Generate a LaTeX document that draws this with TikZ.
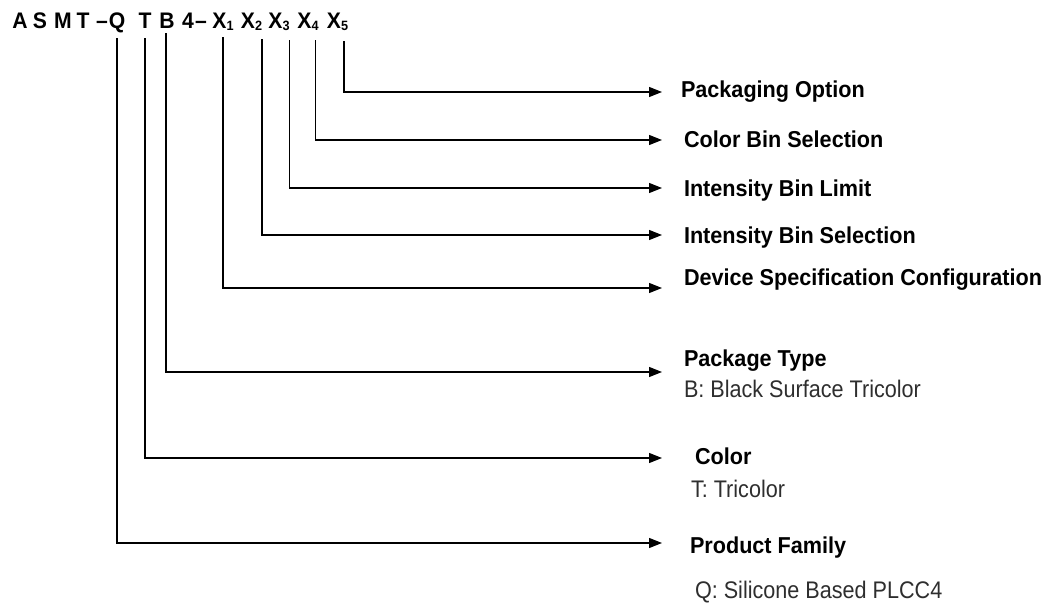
\documentclass[tikz,border=0pt]{standalone}
\usepackage{fontspec}
\setmainfont{Liberation Sans}
\newfontfamily\boldnarrow{Liberation Sans Bold}[FakeStretch=0.94]
\newfontfamily\regnarrow{Liberation Sans}[FakeStretch=0.9]
\usetikzlibrary{arrows.meta,calc}
\newcommand\subx[1]{\raisebox{-2.5pt}{\fontsize{13.5pt}{14pt}\selectfont #1}}
\tikzset{
  hdr/.style={inner sep=0pt,outer sep=0pt,text depth=0pt,anchor=base,font=\boldnarrow\fontsize{22.5pt}{23pt}\selectfont},
  ttl/.style={inner sep=0pt,outer sep=0pt,anchor=base west,font=\boldnarrow\fontsize{23pt}{23pt}\selectfont},
  dsc/.style={inner sep=0pt,outer sep=0pt,anchor=base west,font=\regnarrow\fontsize{24pt}{24pt}\selectfont,text=black!82},
  conn/.style={line width=1.2pt,-{Triangle[length=13pt,width=10pt]}}
}
\begin{document}
\begin{tikzpicture}[x=1pt,y=-1pt]
\useasboundingbox (0,0) rectangle (1046,603);
% header
\node[hdr] (hA) at (20,28) {A};
\node[hdr] (hS) at (40,28) {S};
\node[hdr] (hM) at (63,28) {M};
\node[hdr] (hT) at (83,28) {T};
\node[hdr] (hd1) at (102,28) {–};
\node[hdr] (Q) at (117,28) {Q};
\node[hdr] (T) at (145,28) {T};
\node[hdr] (B) at (167,28) {B};
\node[hdr] (h4) at (188,28) {4};
\node[hdr] (hd2) at (201,28) {–};
\node[hdr] (X1) at (223,28) {X\subx{1}};
\node[hdr] (X2) at (251.5,28) {X\subx{2}};
\node[hdr] (X3) at (279,28) {X\subx{3}};
\node[hdr] (X4) at (308,28) {X\subx{4}};
\node[hdr] (X5) at (337.5,28) {X\subx{5}};
% labels
\node[ttl] (pack) at (681,97) {Packaging Option};
\node[ttl] (cbin) at (684,147) {Color Bin Selection};
\node[ttl] (ilim) at (684,196) {Intensity Bin Limit};
\node[ttl] (isel) at (684,243) {Intensity Bin Selection};
\node[ttl] (dev) at (684,285) {Device Specification Configuration};
\node[ttl] (ptype) at (684,366) {Package Type};
\node[dsc] (ptypeD) at (684,397) {B: Black Surface Tricolor};
\node[ttl] (color) at (695,464) {Color};
\node[dsc] (colorD) at (691,497) {T: Tricolor};
\node[ttl] (fam) at (690,553) {Product Family};
\node[dsc] (famD) at (695,598) {Q: Silicone Based PLCC4};
% arrow ends
\coordinate (ePack) at (662,92);
\coordinate (eCbin) at (662,140);
\coordinate (eIlim) at (662,188);
\coordinate (eIsel) at (662,235);
\coordinate (eDev) at (662,288);
\coordinate (ePtype) at (662,372);
\coordinate (eColor) at (662,458);
\coordinate (eFam) at (662,543);
% connectors
\draw[conn] ([yshift=-10pt]Q.south) |- (eFam);
\draw[conn] ([yshift=-10pt]T.south) |- (eColor);
\draw[conn] ([yshift=-5pt,xshift=-1pt]B.south) |- (ePtype);
\draw[conn] ([yshift=-9pt]X1.south) |- (eDev);
\draw[conn] ([yshift=-11pt]X2.south east) |- (eIsel);
\draw[conn] ([yshift=-12pt]X3.south east) |- (eIlim);
\draw[conn] ([yshift=-12pt,xshift=-3pt]X4.south east) |- (eCbin);
\draw[conn] ([yshift=-13pt,xshift=-4pt]X5.south east) |- (ePack);
\end{tikzpicture}
\end{document}
